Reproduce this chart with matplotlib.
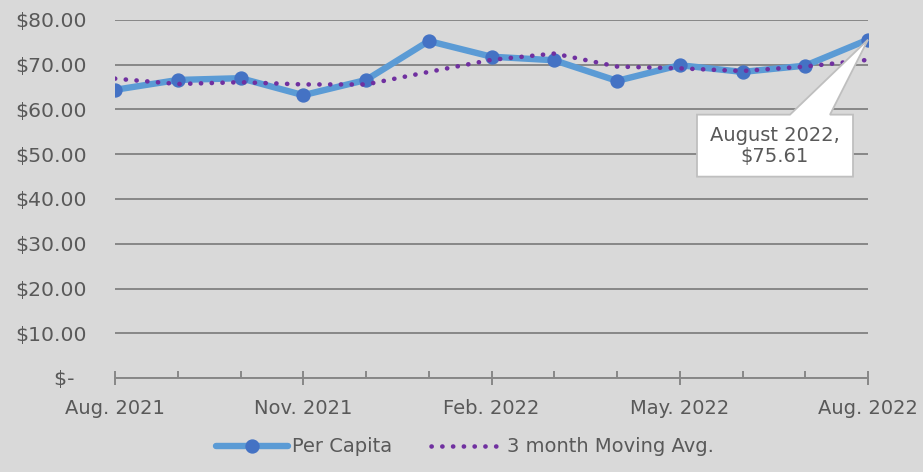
import matplotlib
matplotlib.use("Agg")
import matplotlib.pyplot as plt
from matplotlib.ticker import FixedLocator, FuncFormatter
from matplotlib.patches import Polygon
import numpy as np

months = ["Aug. 2021", "Sep. 2021", "Oct. 2021", "Nov. 2021", "Dec. 2021", "Jan. 2022",
          "Feb. 2022", "Mar. 2022", "Apr. 2022", "May. 2022", "Jun. 2022", "Jul. 2022", "Aug. 2022"]
per_capita = [64.4, 66.6, 67.0, 63.2, 66.6, 75.3, 71.8, 71.0, 66.4, 69.9, 68.4, 69.8, 75.61]
moving_avg = [66.9, 65.7, 66.1, 65.6, 65.6, 68.4, 71.1, 72.5, 69.6, 69.2, 68.6, 69.6, 71.1]
yticks = [0, 10, 20, 30, 40, 50, 60, 70, 80]
major_idx = [0, 3, 6, 9, 12]

BG = "#d9d9d9"
GRID = "#878787"
TXT = "#595959"

fig = plt.figure(figsize=(9.23, 4.72), dpi=100, facecolor=BG)
ax = fig.add_axes([115/923, 1-378/472, 753/923, 358/472], facecolor=BG)

x = np.arange(len(months))
ax.plot(x, per_capita, color="#5b9bd5", lw=4.6, marker="o", ms=9.3,
        mfc="#4472c4", mec="#4472c4", zorder=3, solid_capstyle="round",
        solid_joinstyle="round", label="Per Capita")
ax.plot(x, moving_avg, color="#7030a0", lw=3.3, linestyle=(0, (0.05, 2.3)),
        dash_capstyle="round", zorder=4, label="3 month Moving Avg.")

ax.set_xlim(0, len(months)-1)
ax.set_ylim(0, 80)
ax.set_yticks(yticks)
ax.yaxis.set_major_formatter(FuncFormatter(lambda v, p: "$-  " if v == 0 else f"${v:,.2f}"))
ax.grid(axis="y", color=GRID, lw=1.4)
ax.set_axisbelow(True)
for s in ["top", "right", "left"]:
    ax.spines[s].set_visible(False)
ax.spines["bottom"].set_color(GRID)
ax.spines["bottom"].set_linewidth(1.4)

ax.xaxis.set_major_locator(FixedLocator(major_idx))
ax.set_xticklabels([months[i] for i in major_idx])
ax.xaxis.set_minor_locator(FixedLocator([i for i in x if i not in major_idx]))
ax.tick_params(axis="x", which="major", direction="inout", length=10, width=1.4,
               color=GRID, pad=10, labelsize=14, labelcolor=TXT)
ax.tick_params(axis="x", which="minor", direction="in", length=5, width=1.4, color=GRID)
ax.tick_params(axis="y", length=0, pad=20, labelsize=14.7, labelcolor=TXT)

# callout for the last point (offsets in pixels from the data point)
px, py = ax.transData.transform((x[-1], per_capita[-1]))
off = [(-171, -75), (-78, -75), (0, 0), (-38, -75), (-15, -75), (-15, -137), (-171, -137)]
callout = Polygon([(px + dx, py + dy) for dx, dy in off], closed=True, transform=None,
                  fc="white", ec="#bfbfbf", lw=1.3, zorder=6)
fig.patches.append(callout)
fig.text(px - 93, py - 106, f"August 2022,\n${per_capita[-1]:.2f}", transform=None,
         ha="center", va="center", fontsize=14, color=TXT, linespacing=1.15, zorder=7)

leg = fig.legend(loc="lower center", bbox_to_anchor=(0.504, -0.004), ncol=2, frameon=False,
                 handlelength=3.7, handletextpad=0.2, columnspacing=2.0,
                 prop={"size": 14})
for t in leg.get_texts():
    t.set_color(TXT)

fig.savefig("out.png", dpi=100, facecolor=BG)
